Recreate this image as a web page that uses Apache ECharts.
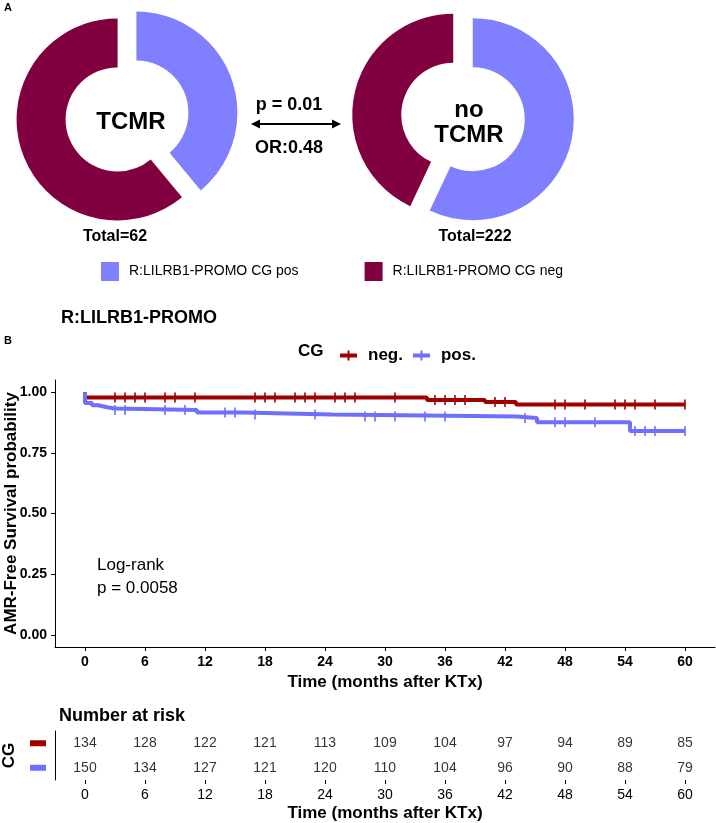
<!DOCTYPE html>
<html><head><meta charset="utf-8">
<script src="https://cdn.jsdelivr.net/npm/echarts@6/dist/echarts.min.js"></script>
<style>html,body{margin:0;padding:0;background:#fff}#c{width:716px;height:823px}</style>
</head><body><div id="c"></div>
<script>
// ---------- data ----------
const pieNames = ['R:LILRB1-PROMO CG pos', 'R:LILRB1-PROMO CG neg'];
const pieColors = ['#8080FF', '#800040'];
const tcmrPct = [39, 61];
const noTcmrPct = [57, 43];
const tcmrTotal = 62;
const noTcmrTotal = 222;

const kmTicks = [0, 6, 12, 18, 24, 30, 36, 42, 48, 54, 60];
const yTicks = [0, 0.25, 0.5, 0.75, 1];

// step points [time, survival from that time on]
const negSteps = [[0, 1], [0, 0.978], [34.2, 0.968], [40, 0.959], [43.1, 0.949], [60, 0.949]];
const posSteps = [[0, 1], [0, 0.955], [0.7, 0.946], [1.3, 0.938], [2.2, 0.933], [3.0, 0.926],
  [11.2, 0.916], [15.8, 0.908], [24.7, 0.900], [43.2, 0.893], [45.2, 0.876], [54.5, 0.840], [60, 0.840]];
const negCensor = [3, 4, 5, 6, 8, 9, 11, 17, 18, 19, 21, 22, 23, 25, 26, 27, 31, 35, 36, 37, 38, 41, 42, 47, 48, 50, 53, 54, 55, 57, 60];
const posCensor = [3, 4, 8, 10, 14, 15, 17, 23, 28, 29, 31, 34, 36, 44, 47, 48, 51, 55, 56, 57, 60];

const riskNeg = [134, 128, 122, 121, 113, 109, 104, 97, 94, 89, 85];
const riskPos = [150, 134, 127, 121, 120, 110, 104, 96, 90, 88, 79];

const negColor = '#A00000';
const posColor = '#6F6FFF';

// ---------- helpers ----------
function survAt(steps, t) {
  let v = steps[0][1];
  for (const s of steps) { if (s[0] <= t) v = s[1]; }
  return v;
}
const FF = 'Liberation Sans, Arial, sans-serif';
const legendIcon = 'path://M0,3H17V7H0Z M7.5,0H9.5V10H7.5Z';

function pieSeries(center, pct) {
  return {
    type: 'pie', center: center, radius: [52, 101], startAngle: 90, clockwise: true,
    selectedMode: 'multiple', selectedOffset: 10, silent: true,
    label: { show: false }, labelLine: { show: false },
    emphasis: { disabled: true },
    data: pieNames.map((n, i) => ({ name: n, value: pct[i], selected: true, itemStyle: { color: pieColors[i] } }))
  };
}

const chart = echarts.init(document.getElementById('c'), null, { renderer: 'canvas' });

const txt = (x, y, text, font, align) => ({
  type: 'text', x: x, y: y, silent: true,
  style: { text: text, font: font, fill: '#000', align: align || 'center', verticalAlign: 'middle' }
});

const option = {
  animation: false,
  textStyle: { fontFamily: FF },
  title: [
    { text: 'R:LILRB1-PROMO', left: 56, top: 304, textStyle: { fontSize: 18, fontWeight: 'bold', color: '#000', fontFamily: FF } },
    { text: 'Number at risk', left: 54, top: 702, textStyle: { fontSize: 18, fontWeight: 'bold', color: '#000', fontFamily: FF } }
  ],
  legend: [
    {
      data: pieNames, left: 96, top: 257, itemWidth: 18, itemHeight: 19, itemGap: 66, icon: 'rect',
      selectedMode: false,
      textStyle: { fontSize: 14, color: '#000', fontFamily: FF, padding: [0, 0, 0, 5] }
    },
    {
      data: [{ name: 'neg.', icon: legendIcon }, { name: 'pos.', icon: legendIcon }],
      left: 335, top: 342, itemWidth: 17, itemHeight: 10, itemGap: 10, selectedMode: false,
      textStyle: { fontSize: 17, fontWeight: 'bold', color: '#000', fontFamily: FF, padding: [0, 0, 0, 6] }
    }
  ],
  grid: [
    { left: 55, top: 380, width: 660, height: 267, outerBoundsMode: 'none', containLabel: false },
    { left: 55, top: 731, width: 660, height: 49, outerBoundsMode: 'none', containLabel: false }
  ],
  xAxis: [
    {
      type: 'value', gridIndex: 0, min: -3, max: 63,
      axisLine: { onZero: false, lineStyle: { color: '#000', width: 1 } },
      axisTick: { show: true, length: 4, customValues: kmTicks, lineStyle: { color: '#000' } },
      axisLabel: { customValues: kmTicks, fontSize: 14, fontWeight: 'bold', color: '#000', margin: 8 },
      splitLine: { show: false },
      name: 'Time (months after KTx)', nameLocation: 'middle', nameGap: 27, nameMoveOverlap: false,
      nameTextStyle: { fontSize: 17, fontWeight: 'bold', color: '#000' }
    },
    {
      type: 'value', gridIndex: 1, min: -3, max: 63,
      axisLine: { onZero: false, lineStyle: { color: '#000', width: 1 } },
      axisTick: { show: true, length: 4, customValues: kmTicks, lineStyle: { color: '#000' } },
      axisLabel: { customValues: kmTicks, fontSize: 14, color: '#000', margin: 8 },
      splitLine: { show: false },
      name: 'Time (months after KTx)', nameLocation: 'middle', nameGap: 25, nameMoveOverlap: false,
      nameTextStyle: { fontSize: 17, fontWeight: 'bold', color: '#000' }
    }
  ],
  yAxis: [
    {
      type: 'value', gridIndex: 0, min: -0.05, max: 1.05,
      axisLine: { show: true, onZero: false, lineStyle: { color: '#000', width: 1 } },
      axisTick: { show: true, length: 4, customValues: yTicks, lineStyle: { color: '#000' } },
      axisLabel: { customValues: yTicks, formatter: v => v.toFixed(2), fontSize: 14, fontWeight: 'bold', color: '#000', margin: 8 },
      splitLine: { show: false },
      name: 'AMR-Free Survival probability', nameLocation: 'middle', nameRotate: 90, nameGap: 35, nameMoveOverlap: false,
      nameTextStyle: { fontSize: 17, fontWeight: 'bold', color: '#000' }
    },
    {
      type: 'category', gridIndex: 1, data: ['pos', 'neg'],
      axisLine: { show: true, onZero: false, lineStyle: { color: '#000', width: 1 } },
      axisTick: { show: false },
      axisLabel: {
        margin: 9, formatter: v => '{' + v + '|}',
        rich: {
          neg: { width: 16, height: 6, backgroundColor: negColor },
          pos: { width: 16, height: 6, backgroundColor: posColor }
        }
      },
      name: 'CG', nameLocation: 'middle', nameRotate: 90, nameGap: 37, nameMoveOverlap: false,
      nameTextStyle: { fontSize: 17, fontWeight: 'bold', color: '#000' }
    }
  ],
  series: [
    pieSeries([127, 116], tcmrPct),
    pieSeries([463, 117], noTcmrPct),
    {
      type: 'line', name: 'neg.', xAxisIndex: 0, yAxisIndex: 0, data: negSteps, step: 'end',
      symbol: 'none', lineStyle: { color: negColor, width: 4 }, itemStyle: { color: negColor }, z: 2, silent: true
    },
    {
      type: 'line', name: 'pos.', xAxisIndex: 0, yAxisIndex: 0, data: posSteps, step: 'end',
      symbol: 'none', lineStyle: { color: posColor, width: 4 }, itemStyle: { color: posColor }, z: 3, silent: true
    },
    {
      type: 'scatter', name: 'neg.', xAxisIndex: 0, yAxisIndex: 0, symbol: 'rect', symbolSize: [2, 10],
      data: negCensor.map(t => [t, survAt(negSteps, t)]), itemStyle: { color: negColor }, z: 4, silent: true
    },
    {
      type: 'scatter', name: 'pos.', xAxisIndex: 0, yAxisIndex: 0, symbol: 'rect', symbolSize: [2, 10],
      data: posCensor.map(t => [t, survAt(posSteps, t)]), itemStyle: { color: posColor }, z: 4, silent: true
    },
    {
      type: 'scatter', xAxisIndex: 1, yAxisIndex: 1, symbolSize: 1, silent: true,
      itemStyle: { color: 'rgba(0,0,0,0)' },
      label: { show: true, position: 'inside', formatter: p => String(p.value[2]), color: '#000', fontSize: 14, fontFamily: FF },
      data: kmTicks.map((t, i) => [t, 'neg', riskNeg[i]]).concat(kmTicks.map((t, i) => [t, 'pos', riskPos[i]]))
    }
  ],
  graphic: [
    txt(8, 8, 'A', 'bold 11px ' + FF),
    txt(8, 341, 'B', 'bold 11px ' + FF),
    txt(173, 48, tcmrPct[0] + '%', 'bold 24px ' + FF),
    txt(131, 122, 'TCMR', 'bold 24px ' + FF),
    txt(503, 48, noTcmrPct[0] + '%', 'bold 24px ' + FF),
    txt(469, 110, 'no', 'bold 24px ' + FF),
    txt(469, 135, 'TCMR', 'bold 24px ' + FF),
    txt(115, 237, 'Total=' + tcmrTotal, 'bold 16px ' + FF),
    txt(475, 237, 'Total=' + noTcmrTotal, 'bold 16px ' + FF),
    txt(289, 105, 'p = 0.01', 'bold 18px ' + FF),
    txt(289, 148, 'OR:0.48', 'bold 18px ' + FF),
    { type: 'line', silent: true, shape: { x1: 258, y1: 124, x2: 334, y2: 124 }, style: { stroke: '#000', lineWidth: 2 } },
    { type: 'polygon', silent: true, shape: { points: [[251, 124], [260, 119.5], [260, 128.5]] }, style: { fill: '#000' } },
    { type: 'polygon', silent: true, shape: { points: [[341, 124], [332, 119.5], [332, 128.5]] }, style: { fill: '#000' } },
    txt(298, 351, 'CG', 'bold 17px ' + FF, 'left'),
    txt(97, 565, 'Log-rank', '17px ' + FF, 'left'),
    txt(97, 588, 'p = 0.0058', '17px ' + FF, 'left')
  ]
};
chart.setOption(option);
</script>
</body></html>
